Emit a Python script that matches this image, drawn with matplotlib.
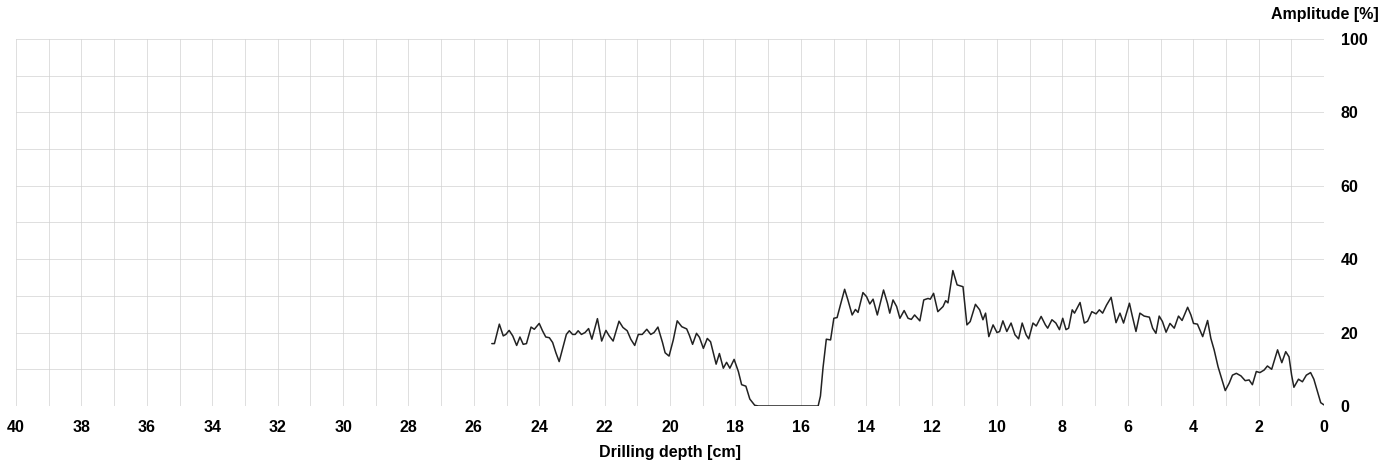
import matplotlib.pyplot as plt
from matplotlib.ticker import MultipleLocator

plt.rcParams['font.family'] = ['Liberation Sans', 'DejaVu Sans']

# drilling depth [cm] and amplitude [%]
depth = [25.45, 25.37, 25.22, 25.1, 25.02, 24.92, 24.81, 24.69, 24.59, 24.49,
         24.39, 24.25, 24.15, 24.0, 23.9, 23.8, 23.69, 23.59, 23.49, 23.39,
         23.29, 23.17, 23.08, 22.98, 22.9, 22.81, 22.71, 22.6, 22.49, 22.39,
         22.22, 22.09, 21.96, 21.86, 21.74, 21.56, 21.44, 21.31, 21.2, 21.08,
         20.97, 20.85, 20.71, 20.59, 20.49, 20.37, 20.23, 20.15, 20.03, 19.9,
         19.78, 19.64, 19.49, 19.41, 19.31, 19.19, 19.1, 18.98, 18.86, 18.76,
         18.59, 18.49, 18.37, 18.27, 18.17, 18.04, 17.91, 17.81, 17.68, 17.56,
         17.41, 17.3, 15.47, 15.4, 15.32, 15.22, 15.09, 14.99, 14.89, 14.79,
         14.66, 14.56, 14.43, 14.33, 14.25, 14.1, 13.99, 13.89, 13.79, 13.66,
         13.47, 13.35, 13.28, 13.18, 13.07, 12.97, 12.84, 12.72, 12.62, 12.52,
         12.36, 12.24, 12.11, 12.04, 11.94, 11.81, 11.65, 11.57, 11.5, 11.35,
         11.22, 11.04, 10.92, 10.82, 10.66, 10.53, 10.43, 10.35, 10.25, 10.12,
         10.0, 9.92, 9.82, 9.7, 9.57, 9.45, 9.34, 9.23, 9.11, 9.03,
         8.9, 8.8, 8.65, 8.52, 8.45, 8.32, 8.2, 8.09, 7.99, 7.89,
         7.81, 7.7, 7.63, 7.46, 7.33, 7.23, 7.1, 6.97, 6.87, 6.77,
         6.65, 6.51, 6.36, 6.24, 6.13, 5.95, 5.87, 5.75, 5.63, 5.5,
         5.34, 5.24, 5.14, 5.04, 4.94, 4.83, 4.71, 4.58, 4.45, 4.34,
         4.17, 4.07, 3.99, 3.87, 3.71, 3.56, 3.46, 3.36, 3.24, 3.12,
         3.02, 2.9, 2.8, 2.68, 2.54, 2.41, 2.29, 2.19, 2.07, 1.96,
         1.83, 1.73, 1.6, 1.42, 1.29, 1.17, 1.07, 0.99, 0.92, 0.78,
         0.66, 0.54, 0.41, 0.31, 0.2, 0.1, 0.0]
amplitude = [17.0, 17.0, 22.3, 19.1, 19.5, 20.6, 19.1, 16.5, 18.8, 16.8,
             17.0, 21.5, 20.9, 22.5, 20.5, 18.8, 18.6, 17.3, 14.5, 12.1,
             15.5, 19.5, 20.5, 19.5, 19.5, 20.5, 19.5, 20.0, 21.1, 18.2,
             23.8, 17.7, 20.6, 19.1, 17.7, 23.1, 21.4, 20.5, 18.2, 16.5,
             19.5, 19.5, 20.9, 19.5, 20.0, 21.5, 17.3, 14.5, 13.6, 18.0,
             23.2, 21.6, 21.0, 19.3, 16.8, 19.8, 18.7, 15.7, 18.4, 17.5,
             11.4, 14.3, 10.3, 11.9, 10.3, 12.7, 9.4, 5.8, 5.4, 1.9,
             0.2, 0.0, 0.0, 2.7, 10.5, 18.2, 18.0, 23.9, 24.1, 27.5,
             31.8, 28.9, 24.8, 26.3, 25.5, 30.9, 29.8, 27.8, 29.1, 24.8,
             31.6, 28.0, 25.3, 28.9, 27.1, 23.9, 26.0, 23.9, 23.6, 24.8,
             23.2, 28.9, 29.3, 29.1, 30.7, 25.7, 27.1, 28.7, 28.1, 36.9,
             33.0, 32.5, 22.1, 23.0, 27.7, 26.2, 23.5, 25.3, 18.9, 22.1,
             20.0, 20.3, 23.2, 20.3, 22.6, 19.4, 18.3, 22.6, 19.4, 18.3,
             22.6, 21.8, 24.4, 22.1, 21.2, 23.5, 22.6, 20.8, 23.9, 20.8,
             21.2, 26.2, 25.3, 28.2, 22.6, 23.1, 25.7, 25.1, 26.2, 25.3,
             27.5, 29.6, 22.7, 25.3, 22.6, 28.0, 24.8, 20.3, 25.3, 24.5,
             24.2, 21.2, 19.8, 24.5, 23.0, 20.1, 22.5, 21.2, 24.5, 23.3,
             26.9, 24.8, 22.5, 22.3, 18.9, 23.3, 18.4, 15.3, 10.7, 7.1,
             4.2, 6.2, 8.4, 8.9, 8.2, 6.9, 7.1, 5.8, 9.4, 9.1,
             9.8, 10.9, 10.0, 15.3, 11.8, 14.8, 13.4, 8.4, 5.1, 7.3,
             6.6, 8.4, 9.1, 7.3, 3.9, 0.9, 0.3]

fig = plt.figure(figsize=(13.95, 4.68), dpi=100)
ax = fig.add_axes([0.0115, 0.1325, 0.9376, 0.7842])

ax.plot(depth, amplitude, color='#222222', lw=1.1,
        solid_joinstyle='round', solid_capstyle='round')

ax.set_xlim(40, 0)
ax.set_ylim(0, 100)
ax.xaxis.set_major_locator(MultipleLocator(2))
ax.xaxis.set_minor_locator(MultipleLocator(1))
ax.yaxis.set_major_locator(MultipleLocator(20))
ax.yaxis.set_minor_locator(MultipleLocator(10))
ax.yaxis.tick_right()
ax.grid(True, which='both', color='#d2d2d2', lw=0.5)
ax.set_axisbelow(True)
ax.tick_params(which='both', length=0)
ax.tick_params(axis='x', pad=10)
ax.tick_params(axis='y', pad=12)
for lab in ax.get_xticklabels() + ax.get_yticklabels():
    lab.set_fontsize(11.5)
    lab.set_fontweight('bold')
for s in ax.spines.values():
    s.set_visible(False)

ax.set_xlabel('Drilling depth [cm]', fontsize=11.5, fontweight='bold', labelpad=7)
fig.text(0.988, 0.968, 'Amplitude [%]', ha='right', va='center',
         fontsize=11.5, fontweight='bold')

fig.savefig('out.png', dpi=100)
